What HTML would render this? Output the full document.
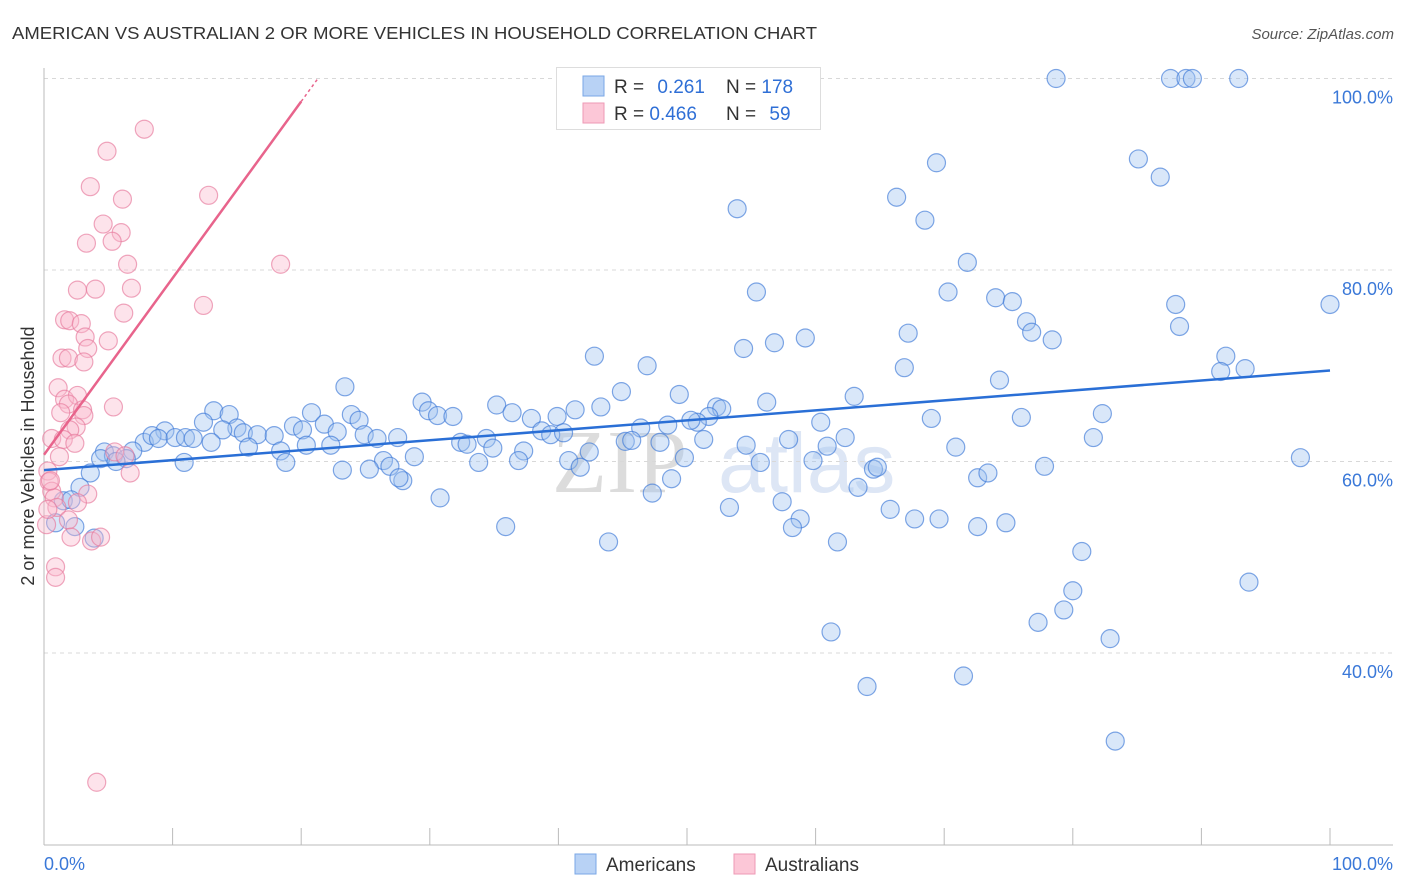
<!DOCTYPE html>
<html><head><meta charset="utf-8"><style>
body{margin:0;background:#fff;font-family:"Liberation Sans",sans-serif;}
#wrap{position:relative;width:1406px;height:892px;overflow:hidden;}
</style></head><body>
<div id="wrap">
<svg id="chart" width="1406" height="892" xmlns="http://www.w3.org/2000/svg">
<text x="12" y="39" font-size="17.5" fill="#333" textLength="805" lengthAdjust="spacingAndGlyphs">AMERICAN VS AUSTRALIAN 2 OR MORE VEHICLES IN HOUSEHOLD CORRELATION CHART</text>
<text x="1394" y="39" font-size="15" fill="#555" font-style="italic" text-anchor="end">Source: ZipAtlas.com</text>
<text x="34" y="456" font-size="18" fill="#333" text-anchor="middle" transform="rotate(-90 34 456)">2 or more Vehicles in Household</text>
<g>
<text x="552" y="492" font-size="90" fill="#dcdcdc" font-family="Liberation Serif,serif">ZIP</text>
<text x="718" y="492" font-size="84" fill="#dde6f5">atlas</text>
</g>
<g id="grid"></g>
<g id="axes"></g>
<g id="pts"></g>
<g id="lines"></g>
<g>
<rect x="556.5" y="67.5" width="264" height="62" fill="#fff" stroke="#ddd"/>
<rect x="583" y="76" width="21" height="20" fill="#b8d2f5" stroke="#7aa7e6"/>
<rect x="583" y="103" width="21" height="20" fill="#fcc7d7" stroke="#ee9ab5"/>
<text x="614" y="93" font-size="19" fill="#333">R = <tspan fill="#2f6fd6" dx="8">0.261</tspan></text>
<text x="726" y="93" font-size="19" fill="#333">N = <tspan fill="#2f6fd6">178</tspan></text>
<text x="614" y="120" font-size="19" fill="#333">R = <tspan fill="#2f6fd6">0.466</tspan></text>
<text x="726" y="120" font-size="19" fill="#333">N = <tspan fill="#2f6fd6" dx="8">59</tspan></text>
</g>
<g>
<rect x="575" y="854" width="21" height="20" fill="#b8d2f5" stroke="#7aa7e6"/>
<text x="606" y="871" font-size="19" fill="#333">Americans</text>
<rect x="734" y="854" width="21" height="20" fill="#fcc7d7" stroke="#ee9ab5"/>
<text x="765" y="871" font-size="19" fill="#333">Australians</text>
</g>
</svg>
</div>
<script>
const yTicks=[40,60,80,100];
const xTickLabels=["0.0%","100.0%"];
const amX=[78.7,87.6,88.8,89.3,92.9,69.4,85.1,86.8,66.3,68.5,53.9,71.8,55.4,70.3,74.0,75.3,88.0,100,76.4,76.8,88.3,67.2,54.4,56.8,59.2,78.4,42.8,46.9,66.9,91.9,91.5,93.4,74.3,23.4,44.9,49.4,63.0,29.4,35.2,43.3,41.3,52.3,52.7,56.2,13.2,14.4,20.8,23.9,29.9,30.6,31.8,36.4,37.9,39.9,51.7,50.8,50.3,60.4,69.0,76.0,82.3,12.4,19.4,21.8,24.5,46.4,48.5,15.0,13.9,9.4,7.8,8.4,8.9,10.2,11.0,11.6,15.5,16.6,17.9,20.1,22.8,24.9,25.9,27.5,32.4,32.9,34.4,38.7,39.4,40.4,45.2,45.7,47.9,51.3,54.6,57.9,60.9,62.3,81.6,70.9,13.0,15.9,18.4,20.4,22.3,34.9,37.3,42.4,49.8,10.9,6.9,4.7,5.4,6.4,4.4,3.6,2.8,1.5,2.1,0.9,2.4,3.9,18.8,26.4,25.3,26.9,28.8,27.9,27.6,23.2,33.8,36.9,40.8,41.7,55.7,59.8,64.5,64.8,72.6,73.4,77.8,97.7,48.8,63.3,47.3,30.8,57.4,53.3,65.8,67.7,69.6,58.8,74.8,72.6,35.9,58.2,43.9,61.7,80.7,80.0,93.7,79.3,77.3,61.2,82.9,71.5,64.0,83.3,5.6];
const amY=[100,100,100,100,100,91.2,91.6,89.7,87.6,85.2,86.4,80.8,77.7,77.7,77.1,76.7,76.4,76.4,74.6,73.5,74.1,73.4,71.8,72.4,72.9,72.7,71.0,70.0,69.8,71.0,69.4,69.7,68.5,67.8,67.3,67.0,66.8,66.2,65.9,65.7,65.4,65.7,65.5,66.2,65.3,64.9,65.1,64.9,65.3,64.8,64.7,65.1,64.5,64.7,64.7,64.1,64.3,64.1,64.5,64.6,65.0,64.1,63.7,63.9,64.3,63.5,63.8,63.5,63.3,63.2,62.0,62.7,62.4,62.5,62.5,62.4,63.0,62.8,62.7,63.3,63.1,62.8,62.4,62.5,62.0,61.8,62.4,63.2,62.8,63.0,62.1,62.2,62.0,62.3,61.7,62.3,61.6,62.5,62.5,61.5,62.0,61.5,61.1,61.7,61.7,61.4,61.1,61.0,60.4,59.9,61.1,61.0,60.6,60.3,60.3,58.8,57.3,55.9,56.0,53.6,53.2,52.0,59.9,60.1,59.2,59.5,60.5,58.0,58.3,59.1,59.9,60.1,60.1,59.4,59.9,60.1,59.2,59.4,58.3,58.8,59.5,60.4,58.2,57.3,56.7,56.2,55.8,55.2,55.0,54.0,54.0,54.0,53.6,53.2,53.2,53.1,51.6,51.6,50.6,46.5,47.4,44.5,43.2,42.2,41.5,37.6,36.5,30.8,60.0];
const auX=[7.8,4.9,12.8,3.6,6.1,4.6,6.0,5.3,3.3,6.5,18.4,6.8,2.6,4.0,6.2,12.4,1.6,2.0,2.9,3.2,5.0,3.4,1.4,1.9,3.1,1.1,1.6,2.6,1.9,3.0,3.1,5.4,1.3,2.5,2.0,0.6,1.5,2.4,5.5,6.3,6.7,0.3,0.4,0.6,0.8,3.4,2.6,1.0,1.9,0.2,2.1,3.7,4.4,0.9,0.9,4.1,0.5,0.3,1.2];
const auY=[94.7,92.4,87.8,88.7,87.4,84.8,83.9,83.0,82.8,80.6,80.6,78.1,77.9,78.0,75.5,76.3,74.8,74.7,74.4,73.0,72.6,71.8,70.8,70.8,70.4,67.7,66.5,66.9,66.0,65.4,64.8,65.7,65.1,63.6,63.3,62.4,62.3,61.9,61.0,60.6,58.8,59.0,57.9,56.9,56.2,56.6,55.7,55.2,53.9,53.4,52.1,51.7,52.1,49.0,47.9,26.5,58.0,55.0,60.5];
const amLine=[59.1,69.5];
const auLine=[60.7,97.6];

const NS="http://www.w3.org/2000/svg";
const X0=44,X1=1330,YTOP=78.5,PX20=191.5;
function sx(v){return X0+(X1-X0)*v/100;}
function sy(v){return YTOP+(100-v)*PX20/20;}
function mk(t,a,p){const e=document.createElementNS(NS,t);for(const k in a)e.setAttribute(k,a[k]);p.appendChild(e);return e;}
const grid=document.getElementById('grid'),axes=document.getElementById('axes'),pts=document.getElementById('pts'),lines=document.getElementById('lines');
yTicks.forEach(v=>{
 const l=mk('line',{x1:X0,x2:1393,y1:sy(v),y2:sy(v),stroke:'#d8d8d8','stroke-dasharray':'4,4','stroke-width':1},grid);
 
 
 const t=mk('text',{x:1393,y:sy(v)+25,'font-size':18,fill:'#3a78d8','text-anchor':'end'},axes);
 t.textContent=v.toFixed(1)+'%';
 
 
});
const ax=mk('line',{x1:X0,x2:X0,y1:68,y2:845,stroke:'#bbb'},axes);


const bx=mk('line',{x1:X0,x2:1393,y1:845,y2:845,stroke:'#bbb'},axes);


for(let i=0;i<=10;i++){
 const t=mk('line',{x1:sx(i*10),x2:sx(i*10),y1:828,y2:845,stroke:'#bbb'},axes);
 
 
}
const xl0=mk('text',{x:44,y:870,'font-size':18,fill:'#3a78d8'},axes);xl0.textContent=xTickLabels[0];


const xl1=mk('text',{x:1393,y:870,'font-size':18,fill:'#3a78d8','text-anchor':'end'},axes);xl1.textContent=xTickLabels[1];


amX.forEach((v,i)=>{
 const c=mk('circle',{cx:sx(v),cy:sy(amY[i]),r:9,fill:'rgba(160,195,240,0.4)',stroke:'rgba(60,120,215,0.65)','stroke-width':1.2},pts);
 
 
});
auX.forEach((v,i)=>{
 const c=mk('circle',{cx:sx(v),cy:sy(auY[i]),r:9,fill:'rgba(250,185,205,0.4)',stroke:'rgba(230,120,155,0.65)','stroke-width':1.2},pts);
 
 
});
const bl=mk('line',{x1:sx(0),y1:sy(amLine[0]),x2:sx(100),y2:sy(amLine[1]),stroke:'#2a6fd6','stroke-width':2.5},lines);


const slope=(auLine[1]-auLine[0])/20;
const pl=mk('line',{x1:sx(0),y1:sy(auLine[0]),x2:sx(20),y2:sy(auLine[1]),stroke:'#e8648c','stroke-width':2.5},lines);


const pd=mk('line',{x1:sx(20),y1:sy(auLine[1]),x2:sx(21.3),y2:sy(auLine[0]+slope*21.3),stroke:'#e8648c','stroke-width':1.5,'stroke-dasharray':'3,3'},lines);


</script>
</body></html>
